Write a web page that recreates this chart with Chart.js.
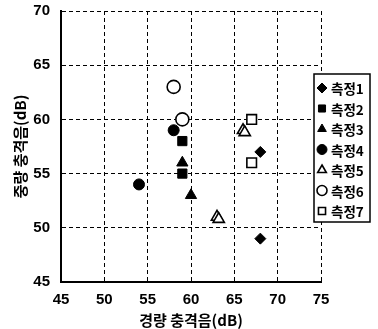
<!DOCTYPE html>
<html>
<head>
<meta charset="utf-8">
<script src="https://cdn.jsdelivr.net/npm/chart.js@4/dist/chart.umd.min.js"></script>
<style>
html, body { margin: 0; padding: 0; background: #fff; }
#wrap { width: 378px; height: 329px; }
</style>
</head>
<body>
<div id="wrap"><canvas id="c"></canvas></div>
<script>
// series names
const names = ['측정1', '측정2', '측정3', '측정4', '측정5', '측정6', '측정7'];

// readings (경량, 중량)
const x1 = [68, 68],       y1 = [57, 49];
const x2 = [59, 59],       y2 = [58, 55];
const x3 = [59, 60],       y3 = [56, 53];
const x4 = [58, 54],       y4 = [59, 54];
const x5 = [66, 66.2, 63, 63.2], y5 = [59, 58.8, 51, 50.8];
const x6 = [58, 59],       y6 = [63, 60];
const x7 = [67, 67],       y7 = [60, 56];

const xTicks = [45, 50, 55, 60, 65, 70, 75];
const yTicks = [45, 50, 55, 60, 65, 70];

const xs = [x1, x2, x3, x4, x5, x6, x7];
const ys = [y1, y2, y3, y4, y5, y6, y7];

const styles = [
    { pointStyle: 'rectRot', pointRadius: 5.5, bg: '#000', bw: 1 },
    { pointStyle: 'rect', pointRadius: 6.5, bg: '#000', bw: 1 },
    { pointStyle: 'triangle', pointRadius: 6.5, bg: '#000', bw: 1 },
    { pointStyle: 'circle', pointRadius: 5.5, bg: '#000', bw: 1 },
    { pointStyle: 'triangle', pointRadius: 6.5, bg: '#fff', bw: 1.6 },
    { pointStyle: 'circle', pointRadius: 6.5, bg: '#fff', bw: 1.6 },
    { pointStyle: 'rect', pointRadius: 6.8, bg: '#fff', bw: 1.6 }
];

const datasets = names.map((name, i) => ({
    label: name,
    data: xs[i].map((x, j) => ({ x: x, y: ys[i][j] })),
    pointStyle: styles[i].pointStyle,
    pointRadius: styles[i].pointRadius,
    pointHoverRadius: styles[i].pointRadius,
    backgroundColor: styles[i].bg,
    borderColor: '#000',
    borderWidth: styles[i].bw
}));

const tickFont = { family: 'Liberation Sans, Arial, sans-serif', size: 15, weight: 'bold' };
const titleFont = { family: 'Noto Sans CJK KR, sans-serif', size: 15, weight: 'bold' };

// boxed legend drawn on top of the plot
const boxLegend = {
    id: 'boxLegend',
    afterDraw(chart) {
        const ctx = chart.ctx;
        const area = chart.chartArea;
        const left = area.right - 7, top = area.top + 63;
        const w = 56, h = 148;
        ctx.save();
        ctx.fillStyle = '#fff';
        ctx.fillRect(left, top, w, h);
        ctx.strokeStyle = '#000';
        ctx.lineWidth = 1.5;
        ctx.strokeRect(left, top, w, h);
        ctx.font = 'bold 13.5px "Noto Sans CJK KR", sans-serif';
        ctx.textBaseline = 'middle';
        chart.data.datasets.forEach((ds, i) => {
            const cy = top + 14 + i * 20.5;
            ctx.fillStyle = ds.backgroundColor;
            ctx.strokeStyle = '#000';
            ctx.lineWidth = ds.borderWidth;
            Chart.helpers.drawPoint(ctx, { pointStyle: ds.pointStyle, radius: 5, borderWidth: ds.borderWidth, rotation: 0 }, left + 8, cy);
            ctx.fillStyle = '#000';
            ctx.fillText(ds.label, left + 17, cy + 1);
        });
        ctx.restore();
    }
};

new Chart(document.getElementById('c').getContext('2d'), {
    type: 'scatter',
    data: { datasets: datasets },
    options: {
        responsive: true,
        maintainAspectRatio: false,
        animation: false,
        layout: { padding: { top: 11, right: 57, left: 0, bottom: 0 } },
        plugins: { legend: { display: false }, tooltip: { enabled: false } },
        scales: {
            x: {
                type: 'linear', min: 45, max: 75,
                afterBuildTicks: s => { s.ticks = xTicks.map(v => ({ value: v })); },
                afterFit: s => { s.height = 47; s.paddingLeft = 0; s.paddingRight = 0; },
                ticks: { font: tickFont, color: '#000', padding: 9 },
                grid: { color: '#000', lineWidth: 1, drawTicks: false },
                border: { display: true, color: '#000', width: 2, dash: [4, 3] },
                title: { display: true, text: '경량 충격음(dB)', font: titleFont, color: '#000', padding: { top: -2, bottom: 0 } }
            },
            y: {
                type: 'linear', min: 45, max: 70,
                afterBuildTicks: s => { s.ticks = yTicks.map(v => ({ value: v })); },
                afterFit: s => { s.width = 61; s.paddingTop = 0; s.paddingBottom = 0; },
                ticks: { font: tickFont, color: '#000', padding: 11 },
                grid: { color: '#000', lineWidth: 1, drawTicks: false },
                border: { display: true, color: '#000', width: 2, dash: [4, 3] },
                title: { display: true, text: '중량 충격음(dB)', font: titleFont, color: '#000', padding: { top: 11, bottom: 0 } }
            }
        }
    },
    plugins: [boxLegend]
});
</script>
</body>
</html>
